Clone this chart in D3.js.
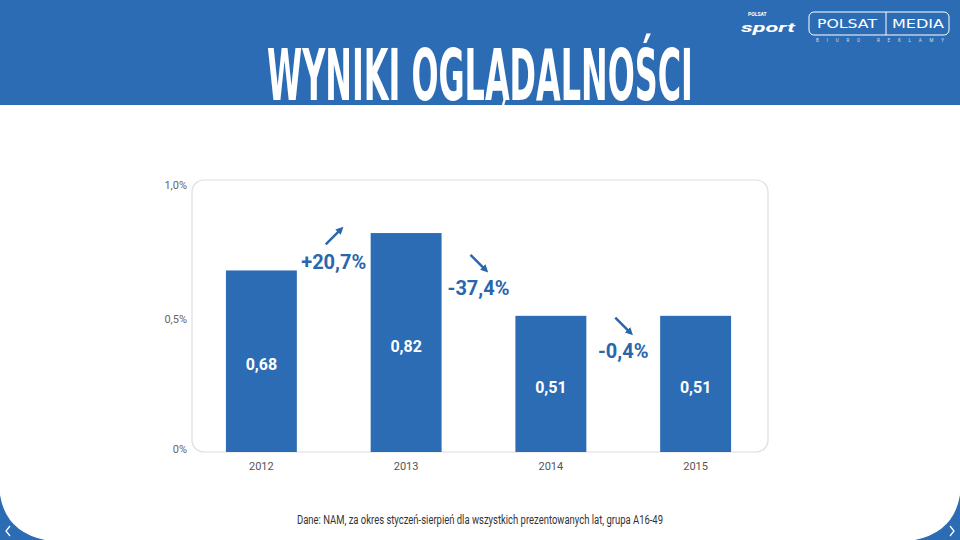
<!DOCTYPE html>
<html>
<head>
<meta charset="utf-8">
<script src="https://cdn.jsdelivr.net/npm/d3@7"></script>
<style>
  body { margin: 0; background: #fff; }
  svg { display: block; font-family: Roboto, "Noto Sans", sans-serif; }
</style>
</head>
<body>
<div id="vis"></div>
<script>
// chart data
var years = ["2012", "2013", "2014", "2015"];
var values = [0.68, 0.82, 0.51, 0.51];
var valueLabels = ["0,68", "0,82", "0,51", "0,51"];
var changes = ["+20,7%", "-37,4%", "-0,4%"];
var changeDir = ["up", "down", "down"];
var yTicks = [0, 0.5, 1.0];
var yTickLabels = ["0%", "0,5%", "1,0%"];

var width = 960, height = 540;
var blue = "#2c6cb4";

var svg = d3.select("#vis").append("svg")
    .attr("width", width)
    .attr("height", height);

// header band
svg.append("rect")
    .attr("x", 0).attr("y", 0)
    .attr("width", width).attr("height", 105)
    .attr("fill", blue);

// title, squeezed horizontally to the reference width
var title = svg.append("text")
    .attr("x", 0).attr("y", 0)
    .attr("fill", "#fff")
    .attr("font-family", "'Liberation Sans Narrow', 'DejaVu Sans Condensed', sans-serif")
    .attr("font-weight", "bold")
    .attr("font-size", 72)
    .text("WYNIKI OGLĄDALNOŚCI");
var tw = title.node().getComputedTextLength();
var sx = 426 / tw;
title.attr("transform", "translate(" + (480 - 213) + ",100) scale(" + sx + ",1)");

// logos (rough text versions)
var logo = svg.append("g").attr("fill", "#fff");
logo.append("text").attr("x", 748).attr("y", 16)
    .attr("font-size", 5).attr("font-weight", "bold").text("POLSAT");
logo.append("text").attr("x", 741).attr("y", 32)
    .attr("font-size", 13).attr("font-weight", "bold").attr("font-style", "italic")
    .attr("textLength", 54).attr("lengthAdjust", "spacingAndGlyphs").text("sport");
svg.append("rect")
    .attr("x", 809).attr("y", 12).attr("width", 140).attr("height", 23)
    .attr("rx", 5).attr("fill", "none").attr("stroke", "#fff").attr("stroke-width", 1);
svg.append("line")
    .attr("x1", 886).attr("x2", 886).attr("y1", 12).attr("y2", 35)
    .attr("stroke", "#fff").attr("stroke-width", 1);
logo.append("text").attr("x", 847).attr("y", 28).attr("text-anchor", "middle")
    .attr("font-size", 12).attr("font-family", "'DejaVu Sans', sans-serif")
    .attr("textLength", 60).attr("lengthAdjust", "spacingAndGlyphs").text("POLSAT");
logo.append("text").attr("x", 918).attr("y", 28).attr("text-anchor", "middle")
    .attr("font-size", 12).attr("font-family", "'DejaVu Sans', sans-serif")
    .attr("textLength", 52).attr("lengthAdjust", "spacingAndGlyphs").text("MEDIA");
logo.append("text").attr("x", 880).attr("y", 42).attr("text-anchor", "middle")
    .attr("font-size", 4.5).attr("fill-opacity", 0.8)
    .attr("textLength", 128).attr("lengthAdjust", "spacing").text("BIURO   REKLAMY");

// chart scales
var x = d3.scaleBand()
    .domain(years)
    .range([189, 768])
    .paddingInner(0.51)
    .paddingOuter(0.255);

var y = d3.scaleLinear()
    .domain([0, 1])
    .range([452, 185]);

// plot frame
svg.append("rect")
    .attr("x", 192).attr("y", 180)
    .attr("width", 576).attr("height", 272)
    .attr("rx", 12)
    .attr("fill", "#fff")
    .attr("stroke", "#dedede")
    .attr("stroke-width", 1.2);

// y axis labels
svg.append("g")
    .selectAll("text")
    .data(yTicks)
    .enter().append("text")
    .attr("x", 187)
    .attr("y", (d) => y(d) + 4 - (d === 0 ? 3 : 0))
    .attr("text-anchor", "end")
    .attr("font-size", 11)
    .attr("fill", "#666")
    .text((d, i) => yTickLabels[i]);

// bars
svg.append("g")
    .selectAll("rect")
    .data(values)
    .enter().append("rect")
    .attr("x", (d, i) => x(years[i]))
    .attr("y", (d) => y(d))
    .attr("width", x.bandwidth())
    .attr("height", (d) => y(0) - y(d))
    .attr("fill", blue);

// value labels inside bars
svg.append("g")
    .selectAll("text")
    .data(values)
    .enter().append("text")
    .attr("x", (d, i) => x(years[i]) + x.bandwidth() / 2)
    .attr("y", (d) => (y(d) + y(0)) / 2 + 9)
    .attr("text-anchor", "middle")
    .attr("font-size", 16)
    .attr("font-weight", "bold")
    .attr("fill", "#fff")
    .text((d, i) => valueLabels[i]);

// x labels
svg.append("g")
    .selectAll("text")
    .data(years)
    .enter().append("text")
    .attr("x", (d) => x(d) + x.bandwidth() / 2)
    .attr("y", 470)
    .attr("text-anchor", "middle")
    .attr("font-size", 11)
    .attr("fill", "#555")
    .text((d) => d);

// change annotations between bars, arrows above the text
svg.append("defs").append("marker")
    .attr("id", "head")
    .attr("viewBox", "0 0 10 10")
    .attr("refX", 5).attr("refY", 5)
    .attr("markerWidth", 3.2).attr("markerHeight", 3.2)
    .attr("orient", "auto")
    .append("path")
    .attr("d", "M0,0 L10,5 L0,10 Z")
    .attr("fill", "#2a66ac");

// vertical anchor of each change label, in chart units
var changeLabelAt = [0.71, 0.615, 0.38];

var changeG = svg.append("g")
    .selectAll("g")
    .data(changes)
    .enter().append("g")
    .attr("transform", (d, i) => {
        var cx = (x(years[i]) + x(years[i + 1]) + x.bandwidth()) / 2;
        return "translate(" + cx + "," + y(changeLabelAt[i]) + ")";
    });

changeG.append("text")
    .attr("y", 7)
    .attr("text-anchor", "middle")
    .attr("font-size", 20)
    .attr("font-weight", "bold")
    .attr("fill", "#2a66ac")
    .text((d) => d);

changeG.append("line")
    .attr("x1", -8)
    .attr("x2", 7)
    .attr("y1", (d, i) => changeDir[i] === "up" ? -18 : -33)
    .attr("y2", (d, i) => changeDir[i] === "up" ? -33 : -18)
    .attr("stroke", "#2a66ac")
    .attr("stroke-width", 2.4)
    .attr("marker-end", "url(#head)");

// footnote
svg.append("text")
    .attr("x", 480).attr("y", 524)
    .attr("text-anchor", "middle")
    .attr("font-size", 12)
    .attr("fill", "#333")
    .attr("textLength", 366)
    .attr("lengthAdjust", "spacingAndGlyphs")
    .text("Dane: NAM, za okres styczeń-sierpień dla wszystkich prezentowanych lat, grupa A16-49");

// corner shapes with nav chevrons
svg.append("path")
    .attr("d", "M0,495 Q6,532 45,540 L0,540 Z")
    .attr("fill", blue);
svg.append("path")
    .attr("d", "M960,495 Q954,532 915,540 L960,540 Z")
    .attr("fill", blue);
svg.append("path")
    .attr("d", "M10,526 L6,531 L10,536")
    .attr("fill", "none").attr("stroke", "#fff").attr("stroke-width", 1.3);
svg.append("path")
    .attr("d", "M950,526 L954,531 L950,536")
    .attr("fill", "none").attr("stroke", "#fff").attr("stroke-width", 1.3);
</script>
</body>
</html>
